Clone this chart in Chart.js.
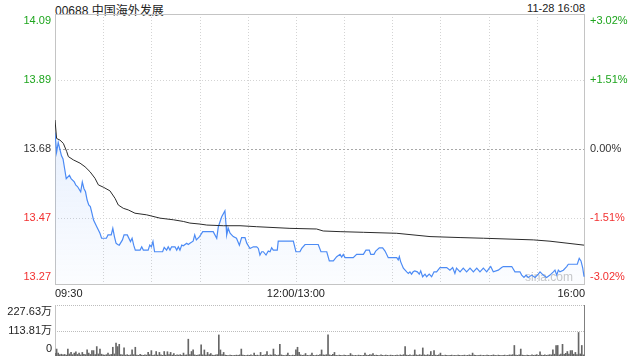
<!DOCTYPE html>
<html>
<head>
<meta charset="utf-8">
<script src="https://cdn.jsdelivr.net/npm/chart.js@4.4.0/dist/chart.umd.min.js"></script>
<style>
     body { margin: 0; background: #fff; width: 640px; height: 360px; overflow: hidden; position: relative;
          font-family: "Liberation Sans", Arial, "Noto Sans CJK SC", sans-serif; }
     #title { position: absolute; left: 55px; top: 1px; font-size: 12px; color: #222; }
     #stamp { position: absolute; right: 55px; top: 2px; font-size: 11px; color: #222; }
     #priceChart { position: absolute; left: 0; top: 0; }
     #volChart { position: absolute; left: 0; top: 300px; }
</style>
</head>
<body>
<div id="title">00688 中国海外发展</div>
<div id="stamp">11-28 16:08</div>
<canvas id="priceChart" width="640" height="300"></canvas>
<canvas id="volChart" width="640" height="60"></canvas>
<script>
// minutes since 09:30 (lunch break removed), 330 = 16:00
const prevClose = 13.68;
const priceTicks = [14.09, 13.89, 13.68, 13.47, 13.27];
const priceTickLabels = ['14.09', '13.89', '13.68', '13.47', '13.27'];
const pctTickLabels = ['+3.02%', '+1.51%', '0.00%', '-1.51%', '-3.02%'];
const gridMinutes = [30, 60, 90, 120, 150, 180, 210, 240, 270, 300];
const timeTicks = [0, 150, 330];
const timeLabels = ['09:30', '12:00/13:00', '16:00'];
const volTicks = [227.63, 113.81, 0];
const volTickLabels = ['227.63万', '113.81万', '0'];

const pricePoints = [[0,13.73],[1,13.67],[2,13.70],[3,13.68],[4,13.66],[5,13.65],[6,13.62],[7,13.59],[9,13.60],[10,13.59],
     [12,13.58],[13,13.57],[14,13.566],[16,13.55],[17,13.58],[18,13.56],[19,13.55],[20,13.525],[21,13.51],[22,13.505],
     [23,13.485],[24,13.464],[26,13.444],[28,13.424],[29,13.409],[32,13.409],[33,13.419],[35,13.419],[36,13.439],[37,13.414],
     [38,13.394],[39,13.39],[40,13.388],[42,13.404],[43,13.419],[45,13.419],[47,13.399],[48,13.409],[49,13.388],[50,13.373],
     [53,13.373],[54,13.383],[55,13.373],[58,13.373],[59,13.388],[60,13.383],[61,13.399],[62,13.368],[67,13.368],[68,13.381],
     [69.5,13.373],[70.5,13.383],[71.6,13.373],[72.6,13.383],[74.7,13.383],[75.8,13.373],[76.8,13.383],[77.8,13.373],[78.9,13.388],[79.9,13.386],
     [82,13.394],[83,13.39],[84,13.394],[86,13.40],[87,13.419],[88,13.404],[90,13.414],[92,13.429],[98.5,13.429],[100.7,13.409],
     [101.7,13.444],[103.8,13.474],[105.8,13.492],[106.5,13.449],[106.9,13.419],[107.9,13.439],[109,13.424],[111,13.414],[113,13.409],[114.8,13.388],
     [116.2,13.411],[118.3,13.411],[119.4,13.394],[121.4,13.378],[123.5,13.383],[125.6,13.383],[126.6,13.378],[127.6,13.358],[128.7,13.368],[129.7,13.368],
     [131.4,13.358],[132.8,13.37],[133.9,13.368],[134.9,13.38],[135.9,13.373],[138.4,13.373],[139,13.40],[148.4,13.40],[150,13.368],[152.5,13.368],
     [153.6,13.378],[155.7,13.39],[163.9,13.39],[165.6,13.368],[169.2,13.368],[170.8,13.34],[173.3,13.34],[175.4,13.353],[177.5,13.36],[178.5,13.352],
     [179.5,13.36],[180.6,13.35],[185.7,13.35],[187.8,13.36],[192,13.36],[193.6,13.373],[195.7,13.373],[196.6,13.36],[198.6,13.36],[199.7,13.37],
     [201.9,13.38],[204,13.38],[205.5,13.37],[207.5,13.35],[212.8,13.35],[213.7,13.343],[214.4,13.353],[215.2,13.338],[216.9,13.318],[219,13.307],
     [220,13.302],[221,13.307],[222,13.30],[223,13.307],[224,13.31],[225.6,13.307],[226.8,13.30],[227.7,13.31],[228.9,13.292],[230.4,13.30],
     [231.4,13.292],[233,13.30],[234.5,13.292],[236,13.307],[237.6,13.307],[239.7,13.32],[243.9,13.32],[245.9,13.312],[247.6,13.32],[249,13.302],
     [250,13.318],[252.2,13.307],[254.2,13.318],[256.3,13.307],[258.4,13.318],[260.5,13.307],[262.6,13.318],[264.6,13.307],[266.7,13.318],[268.8,13.307],
     [270.4,13.318],[271.3,13.323],[272.9,13.307],[276,13.312],[278.1,13.32],[279.1,13.323],[284.4,13.323],[286.4,13.307],[289.5,13.307],[290.6,13.297],
     [292,13.29],[293.3,13.297],[294.7,13.29],[296.8,13.297],[298.9,13.29],[300.9,13.30],[302,13.307],[304,13.297],[306.1,13.29],[308.2,13.297],
     [310.3,13.307],[311.3,13.312],[312.4,13.297],[313.4,13.312],[314.4,13.307],[316.5,13.312],[318.6,13.323],[319.6,13.33],[325.2,13.33],[326.4,13.348],
     [327.5,13.34],[328.6,13.318],[329.4,13.292]];

const avgPoints = [[0,13.768],[1,13.712],[3.1,13.707],[5.2,13.697],[7.3,13.672],[8.3,13.657],[11.4,13.647],[15.6,13.637],[18.7,13.626],[21.8,13.611],
     [24.9,13.591],[27,13.571],[30.1,13.564],[34.2,13.553],[37.4,13.53],[39.4,13.51],[42.5,13.50],[45.6,13.495],[49.8,13.485],[57.1,13.48],
     [65.4,13.47],[73.7,13.465],[79.9,13.46],[84,13.455],[90.3,13.452],[94.5,13.449],[104.8,13.447],[115.2,13.447],[125.6,13.444],[146.3,13.439],
     [162.9,13.437],[167,13.431],[177.5,13.429],[192,13.427],[212.8,13.424],[233.5,13.414],[252.2,13.411],[266.7,13.409],[297.8,13.404],[308.2,13.40],
     [329.4,13.388]];

// volume in 万 shares, one bar per minute
const volumes = [12,31,13,6,8,5,7,4,31,9, 16,6,13,19,7,13,5,16,8,6,
     27,13,7,24,24,6,42,9,31,8, 5,4,6,13,5,7,39,9,58,42,
     52,6,5,36,4,6,3,5,27,6, 39,4,3,8,4,3,5,4,16,6,
     24,3,5,20,4,16,5,3,20,4, 19,6,16,4,11,3,5,4,6,3,
     13,4,5,75,6,20,27,5,3,4, 6,50,5,27,4,16,6,11,4,3,
     5,6,94,27,6,16,4,3,2,4, 3,2,3,4,3,5,31,4,3,2,
     4,3,5,2,13,3,4,2,16,3, 4,6,20,3,5,4,31,6,3,4,
     52,5,3,2,4,13,3,2,4,3, 27,39,16,5,3,4,11,3,2,4,
     13,3,2,4,3,6,27,5,4,6, 94,5,3,8,16,3,2,4,3,2,
     4,3,2,3,11,4,2,3,2,4, 3,2,3,13,4,3,6,5,11,3,
     4,3,2,5,3,2,4,3,2,4, 3,2,3,4,2,5,3,6,42,4,
     3,5,2,4,27,5,3,6,4,36, 5,3,6,4,20,3,24,4,3,5,
     13,3,2,4,3,2,3,4,2,3, 2,4,3,2,3,4,2,3,5,3,
     13,4,3,2,3,4,2,3,2,4, 3,2,3,5,3,2,4,3,2,3,
     4,2,3,5,4,6,47,4,3,5, 31,4,3,2,4,3,2,5,3,4,
     6,3,19,4,3,5,3,4,6,5, 27,8,47,47,5,9,52,7,12,20,
     9,24,24,8,16,6,105,9,47,5, 227.63];

const blue = '#4c8bf5';

function labelOffset(i, n) {
     if (i === 0) return 7;
     if (i === n - 1) return -7;
     return 0;
}

function tickColor(v) {
     if (v > prevClose + 0.001) return '#1ea51e';
     if (v < prevClose - 0.001) return '#f23030';
     return '#333';
}

const priceFrame = {
     id: 'priceFrame',
     beforeDatasetsDraw(chart) {
          const { ctx, chartArea: a, scales: { x, y } } = chart;
          ctx.save();
          ctx.lineWidth = 1;
          ctx.strokeStyle = '#d4d4d4';
          ctx.setLineDash([1, 2]);
          gridMinutes.forEach(m => {
               const px = Math.round(x.getPixelForValue(m)) + 0.5;
               ctx.beginPath(); ctx.moveTo(px, a.top); ctx.lineTo(px, a.bottom); ctx.stroke();
          });
          priceTicks.forEach((v, i) => {
               if (i === 0 || i === priceTicks.length - 1) return;
               const py = Math.round(y.getPixelForValue(v)) + 0.5;
               if (v === prevClose) {
                    ctx.strokeStyle = '#a8a8a8'; ctx.setLineDash([2, 2]);
               } else {
                    ctx.strokeStyle = '#d4d4d4'; ctx.setLineDash([1, 2]);
               }
               ctx.beginPath(); ctx.moveTo(a.left, py); ctx.lineTo(a.right, py); ctx.stroke();
          });
          ctx.setLineDash([]);
          ctx.strokeStyle = '#c4c4c4';
          ctx.strokeRect(a.left + 0.5, a.top + 0.5, a.right - a.left - 1, a.bottom - a.top);
          // watermark
          ctx.fillStyle = '#c8c8c8';
          ctx.font = '12px "Liberation Sans", Arial, sans-serif';
          ctx.textAlign = 'right';
          ctx.textBaseline = 'middle';
          ctx.fillText('sina.com', a.right - 12, a.bottom - 6);
          ctx.restore();
     },
     afterDraw(chart) {
          const { ctx, chartArea: a, scales: { x, y } } = chart;
          ctx.save();
          ctx.font = '11px "Liberation Sans", Arial, sans-serif';
          ctx.textBaseline = 'middle';
          priceTicks.forEach((v, i) => {
               const py = y.getPixelForValue(v) + labelOffset(i, priceTicks.length);
               ctx.fillStyle = tickColor(v);
               ctx.textAlign = 'right';
               ctx.fillText(priceTickLabels[i], a.left - 4, py);
               ctx.textAlign = 'left';
               ctx.fillText(pctTickLabels[i], a.right + 5, py);
          });
          ctx.fillStyle = '#222';
          timeTicks.forEach((m, i) => {
               ctx.textAlign = i === 0 ? 'left' : (i === timeTicks.length - 1 ? 'right' : 'center');
               ctx.fillText(timeLabels[i], x.getPixelForValue(m), a.bottom + 10);
          });
          ctx.restore();
     }
};

const volFrame = {
     id: 'volFrame',
     beforeDatasetsDraw(chart) {
          const { ctx, chartArea: a, scales: { y } } = chart;
          ctx.save();
          ctx.lineWidth = 1;
          ctx.strokeStyle = '#bdbdbd';
          ctx.setLineDash([1, 1]);
          volTicks.forEach(v => {
               if (v === 0) return;
               const py = Math.round(y.getPixelForValue(v)) + 0.5;
               ctx.beginPath(); ctx.moveTo(a.left, py); ctx.lineTo(a.right, py); ctx.stroke();
          });
          ctx.setLineDash([]);
          ctx.strokeStyle = '#c4c4c4';
          ctx.beginPath(); ctx.moveTo(a.left + 0.5, a.top); ctx.lineTo(a.left + 0.5, a.bottom); ctx.stroke();
          ctx.restore();
     },
     afterDraw(chart) {
          const { ctx, chartArea: a, scales: { y } } = chart;
          ctx.save();
          ctx.font = '11px "Liberation Sans", Arial, "Noto Sans CJK SC", sans-serif';
          ctx.textBaseline = 'middle';
          ctx.textAlign = 'right';
          ctx.fillStyle = '#222';
          volTicks.forEach((v, i) => {
               ctx.fillText(volTickLabels[i], a.left - 3, y.getPixelForValue(v) + labelOffset(i, volTicks.length));
          });
          ctx.restore();
     }
};

document.addEventListener('DOMContentLoaded', function () {
     new Chart(document.getElementById('priceChart').getContext('2d'), {
          type: 'line',
          data: {
               datasets: [{
                    label: '均价',
                    data: avgPoints.map(p => ({ x: p[0], y: p[1] })),
                    borderColor: '#2b2b2b',
                    borderWidth: 1,
                    pointRadius: 0,
                    fill: false
               }, {
                    label: '价格',
                    data: pricePoints.map(p => ({ x: p[0], y: p[1] })),
                    borderColor: blue,
                    borderWidth: 1.2,
                    pointRadius: 0,
                    fill: 'start',
                    backgroundColor: function (c) {
                         const a = c.chart.chartArea;
                         if (!a) return 'rgba(0,0,0,0)';
                         const g = c.chart.ctx.createLinearGradient(0, a.top, 0, a.bottom);
                         g.addColorStop(0, 'rgba(76,139,245,0.22)');
                         g.addColorStop(1, 'rgba(76,139,245,0.02)');
                         return g;
                    }
               }]
          },
          options: {
               responsive: false,
               animation: false,
               layout: { padding: { left: 55, right: 55, top: 14, bottom: 16 } },
               plugins: { legend: { display: false }, tooltip: { enabled: false } },
               scales: {
                    x: { type: 'linear', min: 0, max: 330, display: false },
                    y: { min: 13.27, max: 14.09, display: false }
               }
          },
          plugins: [priceFrame]
     });

     new Chart(document.getElementById('volChart').getContext('2d'), {
          type: 'bar',
          data: {
               datasets: [{
                    label: '成交量',
                    data: volumes.map((v, i) => ({ x: i, y: v })),
                    backgroundColor: '#666',
                    barThickness: 1
               }]
          },
          options: {
               responsive: false,
               animation: false,
               layout: { padding: { left: 55, right: 55, top: 5, bottom: 4 } },
               plugins: { legend: { display: false }, tooltip: { enabled: false } },
               scales: {
                    x: { type: 'linear', min: 0, max: 330, display: false, offset: false },
                    y: { min: 0, max: 227.63, display: false }
               }
          },
          plugins: [volFrame]
     });
});
</script>
</body>
</html>
